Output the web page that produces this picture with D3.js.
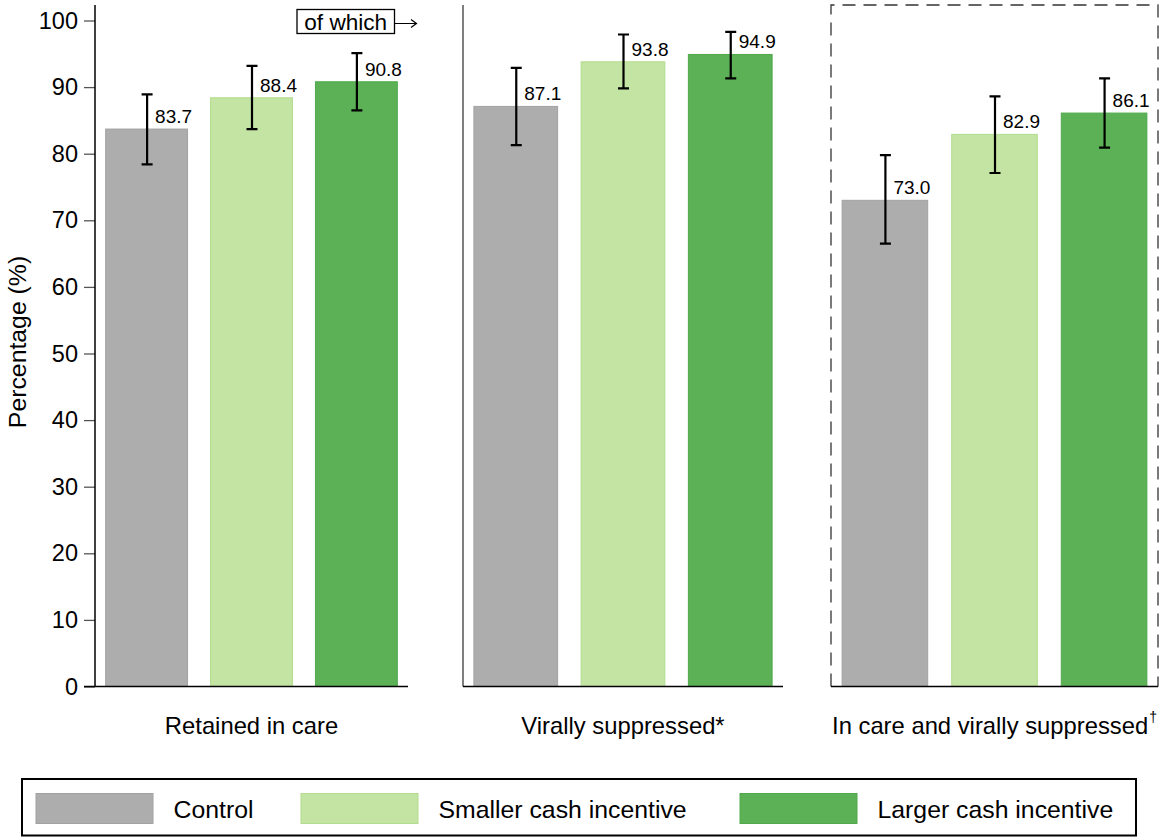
<!DOCTYPE html>
<html>
<head>
<meta charset="utf-8">
<script src="https://cdn.jsdelivr.net/npm/d3@7"></script>
<style>
  html, body { margin: 0; padding: 0; background: #fff; }
  svg { display: block; font-family: "Liberation Sans", Arial, sans-serif; }
</style>
</head>
<body>
<svg id="chart" width="1159" height="837"></svg>
<script>
// Outcomes by study arm (percent, with 95% confidence limits)
const categories = ["Retained in care", "Virally suppressed*", "In care and virally suppressed"];
const categoryMarks = ["", "", "\u2020"];
const groups = ["Control", "Smaller cash incentive", "Larger cash incentive"];

const controlValues = [83.7, 87.1, 73.0];
const smallerValues = [88.4, 93.8, 82.9];
const largerValues  = [90.8, 94.9, 86.1];

const controlLower = [78.4, 81.3, 66.5];
const smallerLower = [83.7, 89.8, 77.1];
const largerLower  = [86.5, 91.3, 80.9];

const controlUpper = [88.9, 92.9, 79.8];
const smallerUpper = [93.2, 97.9, 88.6];
const largerUpper  = [95.1, 98.3, 91.3];

const yTicks = [0, 10, 20, 30, 40, 50, 60, 70, 80, 90, 100];

const fills   = ["#adadad", "#c3e4a2", "#5cb157"];
const strokes = ["#a2a2a2", "#b2dc8e", "#4fa94a"];

const seriesValues = [controlValues, smallerValues, largerValues];
const seriesLower = [controlLower, smallerLower, largerLower];
const seriesUpper = [controlUpper, smallerUpper, largerUpper];

const svg = d3.select("#chart");

const y = d3.scaleLinear().domain([0, 100]).range([686.5, 20.5]);

// horizontal extent of each panel
const panelRanges = [[95, 408], [463, 783], [831, 1158]];
const panelTop = 5;

// y axis on the first panel
const yAxis = svg.append("g").attr("transform", "translate(95,0)")
  .call(d3.axisLeft(y).tickValues(yTicks).tickSize(11).tickPadding(6).tickFormat(d3.format("d")));
yAxis.select(".domain").remove();
yAxis.selectAll(".tick line").attr("stroke", "#555").attr("stroke-width", 1.3);
yAxis.selectAll(".tick text").attr("font-size", 23.5).attr("fill", "#000")
  .attr("font-family", "'Liberation Sans', Arial, sans-serif");

svg.append("text")
  .attr("transform", "translate(26,342) rotate(-90)")
  .attr("text-anchor", "middle")
  .attr("font-size", 24.8)
  .text("Percentage (%)");

categories.forEach((cat, ci) => {
  const [x0, x1] = panelRanges[ci];
  const x = d3.scaleBand().domain(groups).range([x0, x1]).paddingInner(0.21).paddingOuter(0.097);
  const g = svg.append("g");

  // panel frame
  if (ci === 2) {
    g.append("path")
      .attr("d", `M${x0},${y(0)}V${panelTop}H${x1}V${y(0)}`)
      .attr("fill", "none").attr("stroke", "#333").attr("stroke-width", 1.3)
      .attr("stroke-dasharray", "13,8");
  } else {
    g.append("line")
      .attr("x1", x0).attr("x2", x0).attr("y1", panelTop).attr("y2", y(0))
      .attr("stroke", ci === 0 ? "#000" : "#555").attr("stroke-width", 1.5);
  }

  // bars
  groups.forEach((grp, gi) => {
    const v = seriesValues[gi][ci];
    g.append("rect")
      .attr("x", x(grp) + 0.5).attr("width", x.bandwidth() - 1)
      .attr("y", y(v)).attr("height", y(0) - y(v))
      .attr("fill", fills[gi]).attr("stroke", strokes[gi]).attr("stroke-width", 1);
  });

  // baseline
  g.append("line")
    .attr("x1", x0 - (ci === 0 ? 11 : 0)).attr("x2", x1)
    .attr("y1", y(0)).attr("y2", y(0))
    .attr("stroke", "#000").attr("stroke-width", 1.6);

  // confidence intervals and value labels
  groups.forEach((grp, gi) => {
    const cx = x(grp) + x.bandwidth() / 2 + 0.5;
    const lo = seriesLower[gi][ci], hi = seriesUpper[gi][ci], v = seriesValues[gi][ci];
    const cap = 5.5;
    g.append("path")
      .attr("d", `M${cx},${y(lo)}V${y(hi)}M${cx - cap},${y(hi)}H${cx + cap}M${cx - cap},${y(lo)}H${cx + cap}`)
      .attr("fill", "none").attr("stroke", "#000").attr("stroke-width", 2.2);
    g.append("text")
      .attr("x", cx + 8).attr("y", y(v) - 6)
      .attr("font-size", 19)
      .text(d3.format(".1f")(v));
  });

  // category label
  const lbl = svg.append("text")
    .attr("x", (x0 + x1) / 2).attr("y", 734)
    .attr("text-anchor", "middle")
    .attr("font-size", 23.8);
  lbl.append("tspan").text(cat);
  if (categoryMarks[ci]) {
    lbl.append("tspan").attr("font-size", 14).attr("dy", -12).attr("dx", 1).text(categoryMarks[ci]);
  }
});

// "of which" marker
svg.append("rect").attr("x", 297).attr("y", 9.5).attr("width", 97.5).attr("height", 24)
  .attr("fill", "#fff").attr("stroke", "#000").attr("stroke-width", 1.3);
svg.append("text").attr("x", 345.75).attr("y", 29.5).attr("text-anchor", "middle")
  .attr("font-size", 22.6).text("of which");
svg.append("path")
  .attr("d", "M395,23.5H416M411,19.5L416.5,23.5L411,27.5")
  .attr("fill", "none").attr("stroke", "#000").attr("stroke-width", 1.2);

// legend
const legendX = [36, 301, 740];
const legend = svg.append("g");
legend.append("rect").attr("x", 22).attr("y", 779).attr("width", 1114).attr("height", 56.5)
  .attr("fill", "#fff").attr("stroke", "#000").attr("stroke-width", 2);
groups.forEach((grp, gi) => {
  legend.append("rect")
    .attr("x", legendX[gi]).attr("y", 793.5).attr("width", 117).attr("height", 30)
    .attr("fill", fills[gi]).attr("stroke", strokes[gi]).attr("stroke-width", 1);
  legend.append("text")
    .attr("x", legendX[gi] + 137.5).attr("y", 817.5)
    .attr("font-size", 24.8)
    .text(grp);
});
</script>
</body>
</html>
